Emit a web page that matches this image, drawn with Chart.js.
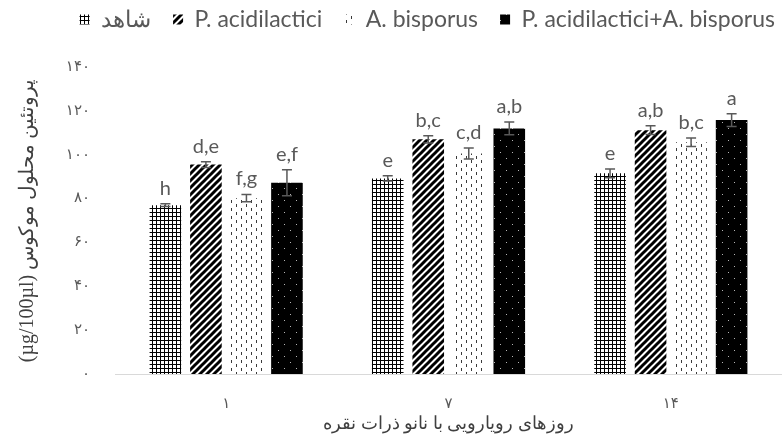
<!DOCTYPE html>
<html><head><meta charset="utf-8">
<script src="https://cdn.jsdelivr.net/npm/chart.js@4"></script>
<style>html,body{margin:0;padding:0;background:#fff}#wrap{width:782px;height:441px}</style>
</head><body><div id="wrap"><canvas id="c" width="782" height="441"></canvas></div>
<script>
const categories = ['۱', '۷', '۱۴'];
const seriesNames = ['شاهد', 'P. acidilactici', 'A. bisporus', 'P. acidilactici+A. bisporus'];
const controlValues = [77.0, 89.2, 91.5];
const acidValues = [95.5, 107.0, 111.2];
const bisporusValues = [80.2, 100.6, 105.7];
const comboValues = [87.2, 112.0, 115.8];
const controlErrors = [0.6, 1.2, 2.0];
const acidErrors = [1.3, 1.7, 2.0];
const bisporusErrors = [1.7, 2.5, 1.9];
const comboErrors = [5.9, 2.9, 2.9];
const controlLetters = ['h', 'e', 'e'];
const acidLetters = ['d,e', 'b,c', 'a,b'];
const bisporusLetters = ['f,g', 'c,d', 'b,c'];
const comboLetters = ['e,f', 'a,b', 'a'];
const yTickLabels = ['۰', '۲۰', '۴۰', '۶۰', '۸۰', '۱۰۰', '۱۲۰', '۱۴۰'];
const yTitle = '(µg/100µl) پروتئین محلول موکوس';
const xTitle = 'روزهای رویارویی با نانو ذرات نقره';

const errorSets = [controlErrors, acidErrors, bisporusErrors, comboErrors];
const letterSets = [controlLetters, acidLetters, bisporusLetters, comboLetters];

const canvas = document.getElementById('c');
const mainCtx = canvas.getContext('2d');
function makeTile(w, h, draw) {
  const c = document.createElement('canvas');
  c.width = w; c.height = h;
  const g = c.getContext('2d');
  draw(g, w, h);
  return mainCtx.createPattern(c, 'repeat');
}
const gridPat = makeTile(4, 4, (g) => {
  g.fillStyle = '#fff'; g.fillRect(0, 0, 4, 4);
  g.fillStyle = '#000'; g.fillRect(0, 0, 4, 1); g.fillRect(0, 0, 1, 4);
});
const diagPat = makeTile(7, 7, (g, w, h) => {
  g.fillStyle = '#fff'; g.fillRect(0, 0, w, h);
  g.strokeStyle = '#000'; g.lineWidth = 3;
  g.beginPath();
  g.moveTo(-1, h + 1); g.lineTo(w + 1, -1);
  g.moveTo(-2, 2); g.lineTo(2, -2);
  g.moveTo(w - 2, h + 2); g.lineTo(w + 2, h - 2);
  g.stroke();
});
const dashPat = makeTile(10, 8, (g, w, h) => {
  g.fillStyle = '#fff'; g.fillRect(0, 0, w, h);
  g.fillStyle = '#3a3a3a';
  g.fillRect(1, 0, 1, 3);
  g.fillRect(6, 4, 1, 3);
});
const dotPat = makeTile(12, 12, (g, w, h) => {
  g.fillStyle = '#000'; g.fillRect(0, 0, w, h);
  g.fillStyle = '#b5b5b5';
  g.fillRect(2, 2, 1, 1);
  g.fillRect(8, 8, 1, 1);
});
const patterns = [gridPat, diagPat, dashPat, dotPat];
const valueSets = [controlValues, acidValues, bisporusValues, comboValues];

const legendPatch = {
  id: 'legendPatch',
  beforeLayout(chart) {
    const lg = chart.legend;
    if (lg && !lg._patched) {
      const f = lg.fit;
      lg.fit = function () { f.call(this); this.height = 81; };
      lg._patched = true;
    }
  },
  afterLayout(chart) {
    const lg = chart.legend;
    if (lg) { lg.left += 32; lg.right += 32; }
  }
};

const errorBars = {
  id: 'errorBars',
  afterDatasetsDraw(chart) {
    const ctx = chart.ctx;
    const ys = chart.scales.y;
    ctx.save();
    chart.data.datasets.forEach((ds, i) => {
      const meta = chart.getDatasetMeta(i);
      meta.data.forEach((bar, j) => {
        const v = ds.data[j], e = errorSets[i][j];
        const yt = ys.getPixelForValue(v + e), yb = ys.getPixelForValue(v - e);
        const x = bar.x;
        ctx.strokeStyle = '#595959';
        ctx.lineWidth = 1.5;
        ctx.beginPath();
        ctx.moveTo(x, yt); ctx.lineTo(x, yb);
        ctx.moveTo(x - 5, yt); ctx.lineTo(x + 5, yt);
        ctx.moveTo(x - 5, yb); ctx.lineTo(x + 5, yb);
        ctx.stroke();
        ctx.fillStyle = '#595959';
        ctx.font = '20px Lato';
        ctx.textAlign = 'center';
        ctx.textBaseline = 'alphabetic';
        ctx.fillText(letterSets[i][j], x, yt - 9);
      });
    });
    ctx.restore();
  }
};

new Chart(canvas, {
  type: 'bar',
  data: {
    labels: categories,
    datasets: seriesNames.map((name, i) => ({
      label: name,
      data: valueSets[i],
      backgroundColor: patterns[i],
      borderWidth: 0
    }))
  },
  options: {
    responsive: false,
    animation: false,
    devicePixelRatio: 1,
    layout: { padding: { top: -14, right: -8.5, left: 0, bottom: 0 } },
    datasets: { bar: { categoryPercentage: 0.729, barPercentage: 0.78 } },
    plugins: {
      legend: {
        position: 'top',
        labels: { font: { family: 'Lato', size: 23 }, color: '#595959', boxWidth: 10, boxHeight: 10, padding: 22 }
      },
      tooltip: { enabled: false }
    },
    scales: {
      x: {
        grid: { display: false, drawTicks: false },
        border: { display: true, color: '#d9d9d9', width: 1 },
        ticks: { padding: 21, color: '#595959', font: { family: 'DejaVu Sans', size: 15 } },
        title: { display: true, text: xTitle, color: '#404040', font: { family: 'Liberation Serif', size: 18 }, padding: { top: 0, bottom: 6 } },
        afterFit: (s) => { s.height = 67; }
      },
      y: {
        min: 0, max: 140,
        ticks: { stepSize: 20, padding: 25, color: '#595959', font: { family: 'DejaVu Sans', size: 15 }, callback: (v, i) => yTickLabels[i] },
        grid: { display: false, drawTicks: false },
        border: { display: false },
        title: { display: true, text: yTitle, color: '#404040', font: { family: 'Liberation Serif', size: 20 }, padding: { top: 16, bottom: 0 } },
        afterFit: (s) => { s.width = 115; }
      }
    }
  },
  plugins: [legendPatch, errorBars]
});
</script>
</body></html>
